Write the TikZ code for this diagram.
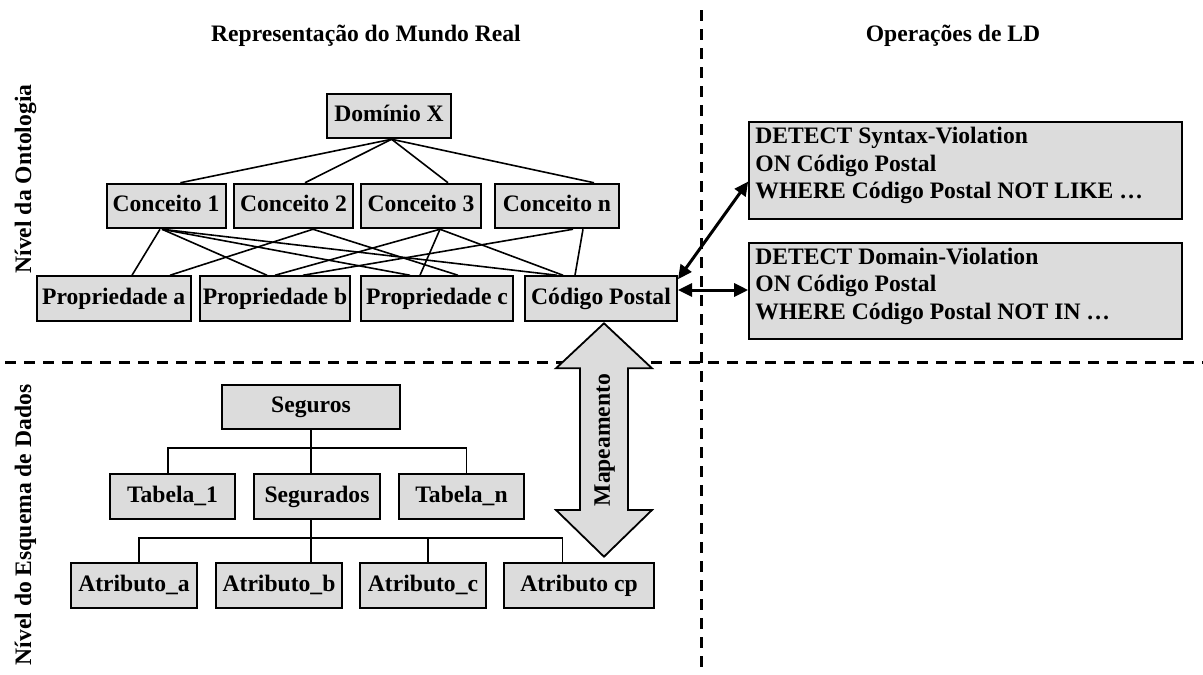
\documentclass[tikz,border=0pt]{standalone}
\usepackage{fontspec}
\setmainfont{Liberation Serif}
\usetikzlibrary{arrows.meta,calc}
\definecolor{boxgray}{RGB}{220,220,220}
\begin{document}
\begin{tikzpicture}[x=1pt,y=-1pt,
  font=\bfseries\fontsize{23.6}{27.5}\selectfont,
  box/.style={draw=black, line width=2pt, fill=boxgray, inner sep=0pt,
    text height=16pt, text depth=4.5pt, minimum height=44.5pt},
  panel/.style={draw=black, line width=2pt, fill=boxgray, inner sep=0pt,
    minimum width=433pt, minimum height=96.5pt},
  paneltext/.style={align=left, inner sep=0pt, anchor=north west},
  link/.style={line width=1.6pt},
  sep/.style={line width=2.6pt, dash pattern=on 11pt off 8pt},
  dbl/.style={line width=3pt,
    {Triangle[length=14pt,width=13pt]}-{Triangle[length=14pt,width=13pt]}},
  bigarrow/.style={draw=black, line width=1.8pt, fill=boxgray},
  side/.style={rotate=90, anchor=base, inner sep=0pt},
  title/.style={anchor=base, inner sep=0pt}]

\useasboundingbox (0,0) rectangle (1203,675);

% quadrant separators
\draw[sep] (701.7,10) -- (701.7,675);
\draw[sep] (5,362.7) -- (1203,362.7);

% headings
\node[title] (t1) at (366,41) {Representação do Mundo Real};
\node[title] (t2) at (953,41) {Operações de LD};
\node[side] (l1) at (31,179) {Nível da Ontologia};
\node[side] (l2) at (31,525) {Nível do Esquema de Dados};

% ontology level
\node[box, minimum width=124pt] (dom) at (389,116) {Domínio X};
\node[box, minimum width=119pt] (c1) at (166,206) {Conceito 1};
\node[box, minimum width=119pt] (c2) at (293.5,206) {Conceito 2};
\node[box, minimum width=120pt] (c3) at (421,206) {Conceito 3};
\node[box, minimum width=124pt] (cn) at (557,206) {Conceito n};
\node[box, minimum width=154pt] (pa) at (113.7,298.5) {Propriedade a};
\node[box, minimum width=150pt] (pb) at (275,298.5) {Propriedade b};
\node[box, minimum width=152pt] (pc) at (437,298.5) {Propriedade c};
\node[box, minimum width=152pt] (cp) at (601,298.5) {Código Postal};

\draw[link] ([xshift=2.6]dom.south) -- ([xshift=14.4]c1.north);
\draw[link] ([xshift=2.6]dom.south) -- ([xshift=11.5]c2.north);
\draw[link] ([xshift=2.6]dom.south) -- ([xshift=27]c3.north);
\draw[link] ([xshift=2.6]dom.south) -- ([xshift=37]cn.north);

\draw[link] ([xshift=-6]c1.south) -- ([xshift=18.3]pa.north);
\draw[link] ([xshift=-4]c1.south) -- ([xshift=-8]pb.north);
\draw[link] ([xshift=-4]c1.south) -- ([xshift=-27]pc.north);
\draw[link] ([xshift=-4]c1.south) -- ([xshift=-44]cp.north);
\draw[link] ([xshift=19.5]c2.south) -- ([xshift=56.3]pa.north);
\draw[link] ([xshift=19.5]c2.south) -- ([xshift=21]pc.north);
\draw[link] ([xshift=19]c3.south) -- (pb.north);
\draw[link] ([xshift=19]c3.south) -- ([xshift=-17]pc.north);
\draw[link] ([xshift=19]c3.south) -- ([xshift=-38]cp.north);
\draw[link] ([xshift=16]cn.south) -- ([xshift=28]pb.north);
\draw[link] ([xshift=26]cn.south) -- ([xshift=-26]cp.north);

% LD operations
\node[panel] (det1) at (965.7,170.5) {};
\node[paneltext] (txt1) at ([xshift=7,yshift=-6]det1.north west)
  {DETECT Syntax-Violation\\ON Código Postal\\WHERE Código Postal NOT LIKE …};
\node[panel] (det2) at (965.7,291) {};
\node[paneltext] (txt2) at ([xshift=7,yshift=-6]det2.north west)
  {DETECT Domain-Violation\\ON Código Postal\\WHERE Código Postal NOT IN …};

\draw[dbl] ([yshift=-4]cp.north east) -- ([yshift=-11]det1.west);
\draw[dbl] ([yshift=8.5]cp.east) -- ([yshift=8.5]cp.east -| det2.west);

% data schema level
\node[box, minimum width=178pt] (seg) at (311,407) {Seguros};
\node[box, minimum width=125pt] (tab1) at (172.5,496.5) {Tabela\_1};
\node[box, minimum width=126pt] (segd) at (317,496.5) {Segurados};
\node[box, minimum width=125pt] (tabn) at (461.5,496.5) {Tabela\_n};
\node[box, minimum width=126pt] (ata) at (134,585.5) {Atributo\_a};
\node[box, minimum width=125.5pt] (atb) at (279,585.5) {Atributo\_b};
\node[box, minimum width=126.5pt] (atc) at (423,585.5) {Atributo\_c};
\node[box, minimum width=150pt] (atcp) at (579,585.5) {Atributo cp};

\coordinate (b1) at ($(seg.south)+(0,18)$);
\coordinate (b2) at ($(seg.south |- segd.south)+(0,18)$);
\draw[link] (seg.south) -- (seg.south |- segd.north);
\draw[link] ([xshift=-4.5]tab1.north) |- (b1) -| ([xshift=5]tabn.north);
\draw[link] (seg.south |- segd.south) -- (seg.south |- atb.north);
\draw[link] ([xshift=5]ata.north) |- (b2) -| ([xshift=-16.5]atcp.north);
\draw[link] ([xshift=4.7]atc.north) -- ([xshift=4.7]atc.north |- b2);

% mapping between the two levels
\begin{scope}[shift={(604,440)}]
  \draw[bigarrow] (0,-116.7) -- (48,-71.7) -- (24,-71.7) -- (24,70)
    -- (48,70) -- (0,116.7) -- (-48,70) -- (-24,70) -- (-24,-71.7)
    -- (-48,-71.7) -- cycle;
  \node[rotate=90, inner sep=0pt, text height=16pt, text depth=4.5pt]
    (map) at (0,0) {Mapeamento};
\end{scope}
\end{tikzpicture}
\end{document}
